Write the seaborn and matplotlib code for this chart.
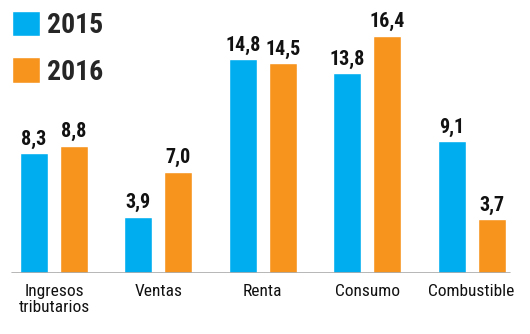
import matplotlib
matplotlib.use("Agg")
import matplotlib.pyplot as plt
import seaborn as sns
import pandas as pd

categories = ["Ingresos\ntributarios", "Ventas", "Renta", "Consumo", "Combustible"]
values_2015 = [8.3, 3.9, 14.8, 13.8, 9.1]
values_2016 = [8.8, 7.0, 14.5, 16.4, 3.7]
years = ["2015", "2016"]
colors = ["#00AEEF", "#F7941D"]

sns.set_theme(style="white")
plt.rcParams["font.family"] = ["Roboto Condensed", "DejaVu Sans"]

df = pd.DataFrame({
    "cat": categories * 2,
    "val": values_2015 + values_2016,
    "year": [years[0]] * len(categories) + [years[1]] * len(categories),
})

W, H = 530, 334
fig = plt.figure(figsize=(W / 100, H / 100), dpi=100)
base = 61
ax = fig.add_axes([0, base / H, 1, (H - base) / H])

sns.barplot(data=df, x="cat", y="val", hue="year", palette=colors,
            width=0.766, gap=0.3, ax=ax, saturation=1, legend=True)

ax.set_xlim(-0.517, 4.56)
ax.set_ylim(0, (H - base) / 14.48)
for s in ax.spines.values():
    s.set_visible(False)
ax.set_yticks([])
ax.set_xlabel("")
ax.set_ylabel("")
ax.tick_params(axis="x", length=0, pad=8)
ax.set_xticks(range(len(categories)))
ax.set_xticklabels(categories, fontsize=12.5, color="#111111", linespacing=1.1)
ax.axhline(0, xmin=12 / W, xmax=510 / W, color="#aaaaaa", lw=1.2, zorder=5)

for cont, vals in zip(ax.containers, [values_2015, values_2016]):
    ax.bar_label(cont, labels=[f"{v:.1f}".replace(".", ",") for v in vals],
                 padding=3, fontsize=14.5, fontweight="bold", color="#111111")

handles, labels = ax.get_legend_handles_labels()
ax.legend(handles, labels, loc="upper left", bbox_to_anchor=(12 / W, 1 - 11 / H),
          bbox_transform=fig.transFigure, frameon=False,
          prop={"size": 20, "weight": "bold"}, handlelength=1.02, handleheight=1.02,
          handletextpad=0.25, labelspacing=0.66, borderaxespad=0, borderpad=0)

fig.savefig("out.png", dpi=100)
